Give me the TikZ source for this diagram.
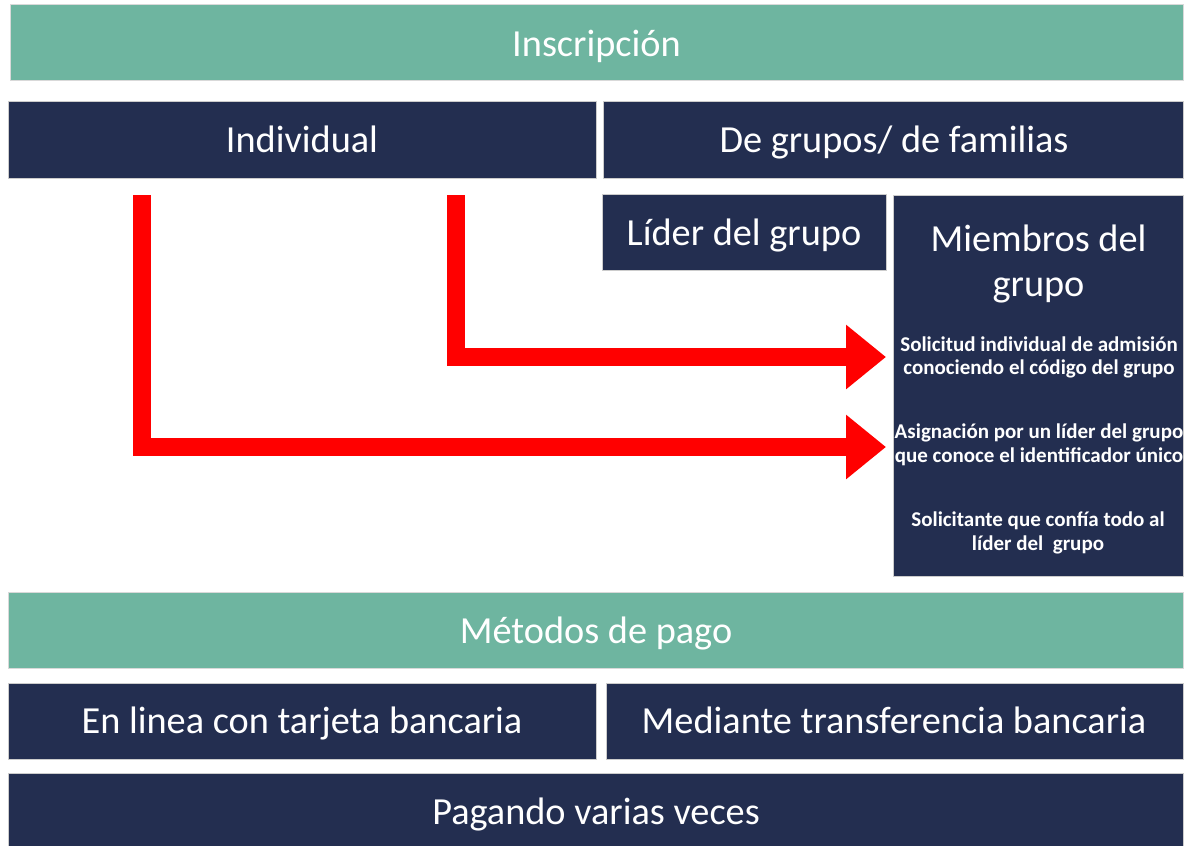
\documentclass[tikz,border=0pt]{standalone}
\usepackage{fontspec}
\setmainfont{Carlito}
\usetikzlibrary{arrows.meta,positioning}
\definecolor{teal1}{RGB}{110,181,160}
\definecolor{navy1}{RGB}{35,46,80}
\definecolor{arrred}{RGB}{255,0,0}
\tikzset{
  boxa/.style={fill=teal1, draw=gray!30, line width=0.8pt},
  boxb/.style={fill=navy1, draw=gray!40, line width=0.8pt},
  big/.style={font=\fontsize{38.3}{43}\selectfont, text=white, anchor=base, inner sep=0pt},
  small/.style={font=\bfseries\fontsize{21}{23.5}\selectfont, text=white, align=center, anchor=base, inner sep=0pt},
  redarrow/.style={draw=arrred, line width=18pt, line join=miter, line cap=butt,
    -{Triangle[length=40pt,width=62pt]}}
}
\begin{document}
\begin{tikzpicture}[x=1pt,y=-1pt]
\useasboundingbox (0,0) rectangle (1192,846);
% boxes
\path[boxa] (10,4) rectangle (1183,80);
\node[big] (ins) at (596.5,56) {Inscripción};
\path[boxb] (8,101) rectangle (596,178);
\node[big] (ind) at (302,152) {Individual};
\path[boxb] (603,101) rectangle (1183,178);
\node[big] (grp) at (894,152) {De grupos/ de familias};
\path[boxb] (602,194) rectangle (886,270);
\node[big] (lid) at (744,245) {Líder del grupo};
\path[boxb] (893,195) rectangle (1183,576);
\node[big] (mem) at (1038.5,251) {Miembros del};
\node[big] (mem2) at (1038.5,296) {grupo};
\node[small] (t1) at (1039,351) {Solicitud individual de admisión};
\node[small] (t1b) at (1039,374) {conociendo el código del grupo};
\node[small] (t2) at (1039,438) {Asignación por un líder del grupo};
\node[small] (t2b) at (1039,462) {que conoce el identificador único};
\node[small] (t3) at (1038,526) {Solicitante que confía todo al};
\node[small] (t3b) at (1038,550) {líder del\ \ grupo};
\path[boxa] (8,592) rectangle (1183,668);
\node[big] (met) at (596,643) {Métodos de pago};
\path[boxb] (8,683) rectangle (596,759);
\node[big] (enl) at (302,733) {En linea con tarjeta bancaria};
\path[boxb] (606,683) rectangle (1183,759);
\node[big] (med) at (894,733) {Mediante transferencia bancaria};
\path[boxb] (8,773) rectangle (1183,850);
\node[big] (pag) at (596,824) {Pagando varias veces};
% arrows
\coordinate (s1) at (456,195);
\coordinate (e1) at (886,357);
\coordinate (s2) at (142,195);
\coordinate (e2) at (886,447);
\draw[redarrow] (s1) |- (e1);
\draw[redarrow] (s2) |- (e2);
\end{tikzpicture}
\end{document}
